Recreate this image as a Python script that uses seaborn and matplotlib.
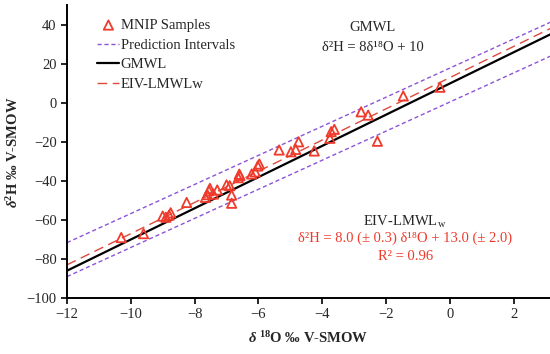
import numpy as np
import pandas as pd
import seaborn as sns
from matplotlib import pyplot as plt

# MNIP samples (d18O, d2H)
d18o = [-10.3, -9.6, -9.0, -8.9, -8.8, -8.75, -8.25, -7.66, -7.6, -7.55, -7.52, -7.41,
        -7.29, -7.0, -6.9, -6.84, -6.84, -6.63, -6.58, -6.6, -6.21, -6.1, -6.02, -5.97,
        -5.35, -4.98, -4.83, -4.74, -4.25, -3.76, -3.72, -3.62, -2.78, -2.56, -2.27,
        -1.46, -0.31]
d2h = [-69.0, -67.0, -58.0, -58.6, -57.5, -56.3, -51.0, -48.4, -47.0, -45.0, -43.8, -46.7,
       -44.6, -42.0, -42.4, -47.2, -51.4, -38.3, -37.2, -36.5, -36.4, -35.3, -32.3, -31.3,
       -24.1, -25.0, -23.8, -19.9, -24.6, -18.1, -14.7, -13.5, -4.5, -6.2, -19.6,
       3.6, 8.1]

# line parameters (slope, intercept)
gmwl = (8.0, 10.0)
eiv = (8.0, 13.0)
pi_upper = (7.46, 17.9)
pi_lower = (7.46, 0.5)
line_x = np.array([-12.0, 3.2])

red = '#ef3b2c'
purple = '#8b55d8'

sns.set_theme(style='ticks')
plt.rcParams['font.family'] = ['Liberation Serif', 'DejaVu Serif']
plt.rcParams['mathtext.fontset'] = 'custom'
plt.rcParams['mathtext.rm'] = 'Liberation Serif:bold'
plt.rcParams['mathtext.it'] = 'Liberation Serif:italic:bold'
plt.rcParams['mathtext.bf'] = 'Liberation Serif:bold'

fig = plt.figure(figsize=(5.5, 3.54), dpi=100)
ax = fig.add_axes([67 / 550, 56 / 354, 483 / 550, 292.5 / 354])

samples = pd.DataFrame({'x': d18o, 'y': d2h})
sns.scatterplot(data=samples, x='x', y='y', ax=ax, marker='^', s=45,
                facecolor='none', edgecolor=red, linewidth=1.3,
                label='MNIP Samples', zorder=4)

sns.lineplot(x=line_x, y=pi_upper[0] * line_x + pi_upper[1], ax=ax, color=purple,
             linewidth=1.0, label='Prediction Intervals')
ax.lines[-1].set_dashes((3, 2))
sns.lineplot(x=line_x, y=pi_lower[0] * line_x + pi_lower[1], ax=ax, color=purple,
             linewidth=1.0)
ax.lines[-1].set_dashes((3, 2))
sns.lineplot(x=line_x, y=gmwl[0] * line_x + gmwl[1], ax=ax, color='black',
             linewidth=1.6, label='GMWL')
sns.lineplot(x=line_x, y=eiv[0] * line_x + eiv[1], ax=ax, color='#dd4a3c',
             linewidth=1.0, label='EIV-LMWLw')
ax.lines[-1].set_dashes((7, 4))

ax.set_xlim(-12, 3.14)
ax.set_ylim(-100, 50)
ax.set_xticks(np.arange(-12, 3, 2))
ax.set_yticks(np.arange(-100, 41, 20))
ax.tick_params(labelsize=10.5, length=4, width=1.2, direction='out', color='black')
for s in ['top', 'right']:
    ax.spines[s].set_visible(False)
for s in ['left', 'bottom']:
    ax.spines[s].set_linewidth(1.4)
    ax.spines[s].set_color('black')

ax.set_xlabel(r'$\delta$ $^{18}$O ‰ V-SMOW', fontsize=10.5, fontweight='bold', labelpad=6)
ax.set_ylabel(r'$\delta$$^{2}$H ‰ V-SMOW', fontsize=10.5, fontweight='bold', labelpad=4)

handles, labels = ax.get_legend_handles_labels()
leg = ax.legend(handles, labels, loc='upper left', bbox_to_anchor=(0.045, 0.985),
                frameon=False, fontsize=10.5, handlelength=1.5, handletextpad=0.1,
                labelspacing=0.45, borderaxespad=0.2)

ax.text(-2.41, 38.5, 'GMWL', ha='center', va='center', fontsize=10.5)
ax.text(-2.41, 28.7, 'δ²H = 8δ¹⁸O + 10', ha='center', va='center', fontsize=10.5)
ax.text(-1.40, -61, r'EIV-LMWL$_{\mathregular{w}}$', ha='center', va='center', fontsize=10.5)
ax.text(-1.40, -69.2, 'δ²H = 8.0 (± 0.3) δ¹⁸O + 13.0 (± 2.0)', ha='center', va='center',
        fontsize=10.5, color=red)
ax.text(-1.40, -78.5, 'R² = 0.96', ha='center', va='center', fontsize=10.5, color=red)

fig.savefig('out.png', dpi=100)
